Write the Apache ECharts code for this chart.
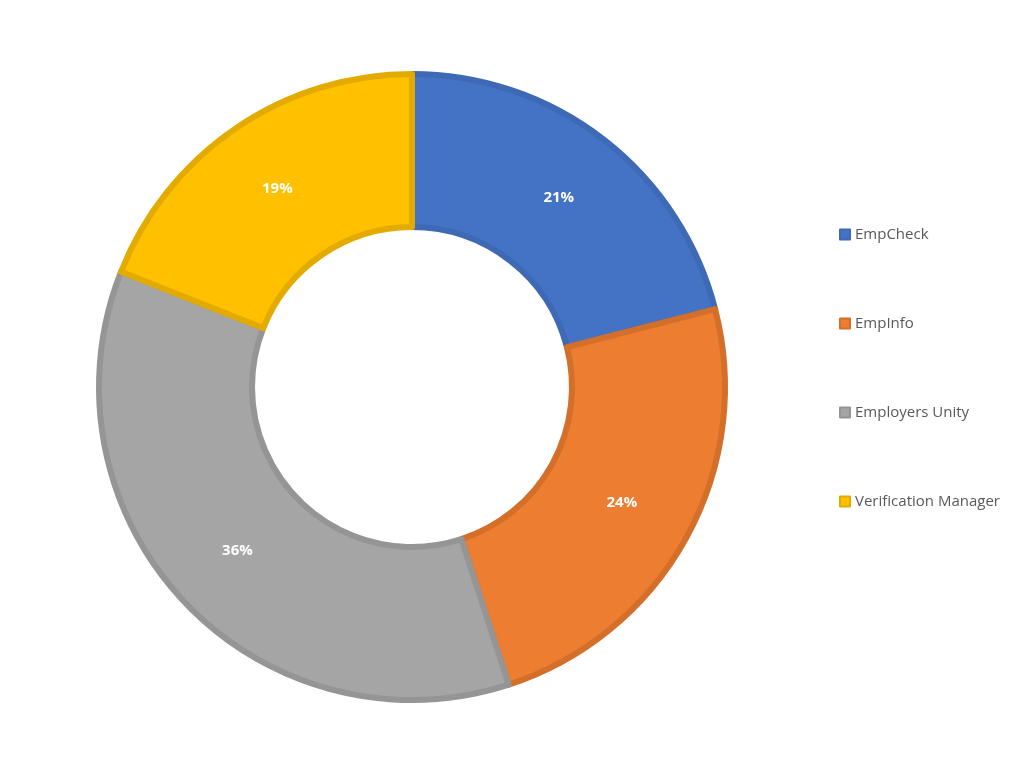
<!DOCTYPE html>
<html><head><meta charset="utf-8">
<script src="https://cdn.jsdelivr.net/npm/echarts@6/dist/echarts.min.js"></script>
<style>html,body{margin:0;padding:0;background:#fff}#c{width:1031px;height:773px}</style>
</head><body><div id="c"></div>
<script>
const categories = ["EmpCheck","EmpInfo","Employers Unity","Verification Manager"];
const values = [21,24,36,19];
const colors = ["#4472C4","#ED7D31","#A5A5A5","#FFC000"];
const borders = ["#3E69B5","#D46F2A","#959595","#E3AB00"];
const chart = echarts.init(document.getElementById('c'));
chart.setOption({
  animation:false,
  legend:{orient:'vertical',left:834,top:222,itemGap:74,itemWidth:10,itemHeight:10,icon:'rect',
    textStyle:{fontFamily:'Open Sans',fontSize:15,color:'#595959'},data:categories},
  series:[{type:'pie',center:[412,387],radius:[160,313],startAngle:90,clockwise:true,
    label:{show:true,position:'inside',formatter:'{d}%',color:'#fff',fontWeight:'bold',fontSize:15,fontFamily:'Open Sans'},
    labelLine:{show:false},emphasis:{disabled:true},
    data:categories.map((n,i)=>({name:n,value:values[i],itemStyle:{color:colors[i],borderColor:borders[i],borderWidth:6}}))
  }]
});
</script></body></html>
